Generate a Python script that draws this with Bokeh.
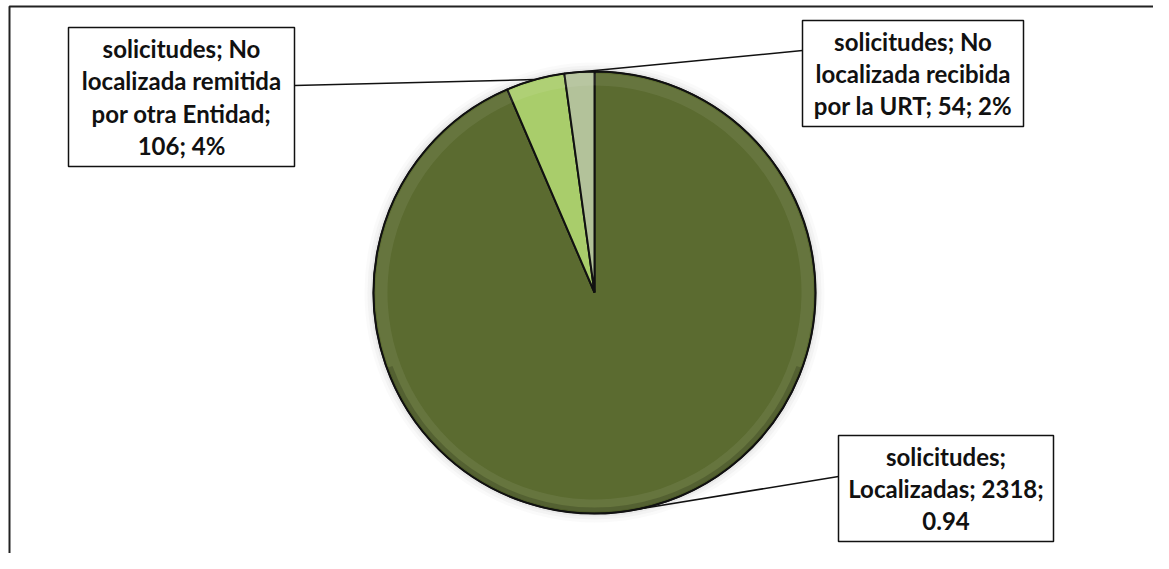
import math
from bokeh.plotting import figure
from bokeh.models import Range1d
from bokeh.core.properties import value
from bokeh.embed import file_html
from bokeh.resources import INLINE

# ---- data ----
series_name = "solicitudes"
categories = ["Localizadas", "No localizada remitida por otra Entidad", "No localizada recibida por la URT"]
values = [2318, 106, 54]
label_texts = [
    "solicitudes;\nLocalizadas; 2318;\n0.94",
    "solicitudes; No\nlocalizada remitida\npor otra Entidad;\n106; 4%",
    "solicitudes; No\nlocalizada recibida\npor la URT; 54; 2%",
]
colors = ["#5b6b30", "#a9cd6b", "#b3c29a"]

# ---- layout (picture pixels; data y = -pixel y) ----
W, H = 1153, 553
cx, cy, R = 594, 292, 221
boxes = [  # (x0, y0, x1, y1)
    (838, 435, 1053, 541),
    (68, 27, 294, 166),
    (802, 20, 1023, 126),
]
leader_y = [476, 85, 50]
FONT = value("Lato")

p = figure(width=W, height=H, output_backend="svg", toolbar_location=None,
           x_range=Range1d(0, W), y_range=Range1d(-H, 0),
           min_border=0, background_fill_color="white", border_fill_color="white")
p.axis.visible = False
p.grid.visible = False
p.outline_line_color = None

# frame (left and top edges)
p.line([9, 9, W], [-H, -6, -6], line_color="#222222", line_width=2)

# soft shadow behind pie
for k, a in [(9, 0.04), (6, 0.06), (3, 0.09)]:
    p.circle(x=[cx], y=[-cy], radius=R + k, fill_color="#888888", fill_alpha=a, line_color=None)

total = float(sum(values))
fracs = [v / total for v in values]
starts, ends, mids = [], [], []
cum = 0.0
for f in fracs:
    a0 = math.pi / 2 - cum * 2 * math.pi
    cum += f
    a1 = math.pi / 2 - cum * 2 * math.pi
    starts.append(a0)
    ends.append(a1)
    mids.append((a0 + a1) / 2)

# slices
p.wedge(x=[cx] * 3, y=[-cy] * 3, radius=R, start_angle=starts, end_angle=ends,
        direction="clock", fill_color=colors, line_color="#111111", line_width=2)

# bevel highlight / shade near rim
p.annular_wedge(x=[cx] * 3, y=[-cy] * 3, inner_radius=R - 14, outer_radius=R - 2,
                start_angle=starts, end_angle=ends, direction="clock",
                fill_color="white", fill_alpha=0.07, line_color=None)
p.annular_wedge(x=[cx], y=[-cy], inner_radius=R - 6, outer_radius=R,
                start_angle=[math.radians(200)], end_angle=[math.radians(340)],
                direction="anticlock", fill_color="#1e2610", fill_alpha=0.25, line_color=None)
p.circle(x=[cx], y=[-cy], radius=R, fill_color=None, line_color="#111111", line_width=1.5)

# leader lines and label boxes
for i in range(3):
    x0, y0, x1, y1 = boxes[i]
    ex = cx + R * math.cos(mids[i])
    ey = cy - R * math.sin(mids[i])
    sx = x0 if ex < x0 else x1
    sy = leader_y[i]
    p.line([sx, ex], [-sy, -ey], line_color="#111111", line_width=1.5)
    p.rect(x=[(x0 + x1) / 2], y=[-(y0 + y1) / 2], width=x1 - x0, height=y1 - y0,
           fill_color="white", line_color="#111111", line_width=1.5)
    p.text(x=[(x0 + x1) / 2], y=[-(y0 + y1) / 2], text=[label_texts[i]],
           text_font=FONT, text_font_style="bold", text_font_size="24px",
           text_align="center", text_baseline="middle", text_line_height=1.12,
           text_color="#111111")

open("out.html", "w").write(file_html(p, INLINE))
